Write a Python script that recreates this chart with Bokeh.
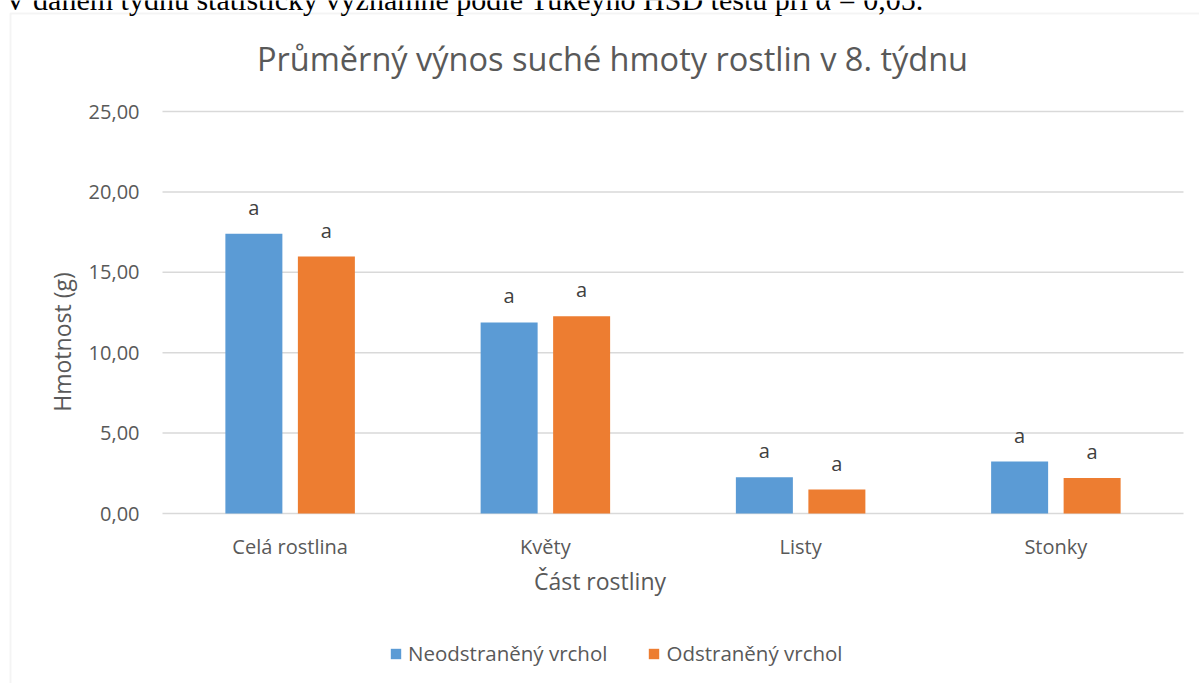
from bokeh.plotting import figure
from bokeh.models import (ColumnDataSource, Range1d, FixedTicker, LabelSet,
                          Legend, LegendItem, Label, BoxAnnotation)
from bokeh.transform import dodge
from bokeh.embed import file_html
from bokeh.resources import INLINE
from bokeh.core.properties import value

# ---- data ----
categories = ["Celá rostlina", "Květy", "Listy", "Stonky"]
neodstraneny = [17.39, 11.88, 2.26, 3.23]
odstraneny = [15.98, 12.27, 1.49, 2.20]
letters_neo = ["a", "a", "a", "a"]
letters_odst = ["a", "a", "a", "a"]
series_names = ["Neodstraněný vrchol", "Odstraněný vrchol"]
y_ticks = [0, 5, 10, 15, 20, 25]
y_tick_labels = ["0,00", "5,00", "10,00", "15,00", "20,00", "25,00"]
title_text = "Průměrný výnos suché hmoty rostlin v 8. týdnu"
x_title = "Část rostliny"
y_title = "Hmotnost (g)"
doc_text = "V daném týdnu statisticky významné podle Tukeyho HSD testu při α = 0,05."

FONT = "Open Sans"
GREY = "#595959"
BLUE = "#5B9BD5"
ORANGE = "#ED7D31"
GRID = "#d9d9d9"

W, H = 1199, 683
# layout of the plotting area in pixels
PL, PR, PT, PB = 162, 1183, 111, 513
n = len(categories)
xs = (PR - PL) / n
ys = (PB - PT) / y_ticks[-1]

xpos = [i + 0.5 for i in range(n)]
src = ColumnDataSource(dict(x=xpos, neo=neodstraneny, odst=odstraneny,
                            lneo=letters_neo, lodst=letters_odst))
grid_src = ColumnDataSource(dict(y=y_ticks, x0=[0] * len(y_ticks), x1=[n] * len(y_ticks)))

p = figure(width=W, height=H,
           x_range=Range1d(-PL / xs, n + (W - PR) / xs),
           y_range=Range1d(-(H - PB) / ys, y_ticks[-1] + PT / ys),
           output_backend="svg", toolbar_location=None,
           min_border=0, min_border_left=0, min_border_right=0,
           min_border_top=0, min_border_bottom=0)
p.outline_line_color = None
p.background_fill_color = "white"
p.border_fill_color = "white"
p.xgrid.visible = False
p.ygrid.visible = False

# gridlines across the category area
p.segment(x0="x0", x1="x1", y0="y", y1="y", source=grid_src, line_color=GRID, line_width=1.5)

BW = 57 / xs
OFF = 36.25 / xs
r1 = p.vbar(x=dodge("x", -OFF), top="neo", width=BW, source=src, fill_color=BLUE, line_color=None)
r2 = p.vbar(x=dodge("x", OFF), top="odst", width=BW, source=src, fill_color=ORANGE, line_color=None)

for col, lab, off in (("neo", "lneo", -OFF), ("odst", "lodst", OFF)):
    p.add_layout(LabelSet(x=dodge("x", off), y=col, text=lab, source=src,
                          y_offset=19, text_align="center", text_baseline="alphabetic",
                          text_font=value(FONT), text_font_size="20px", text_color="#404040"))

# axes (placed at the data origin inside the canvas)
p.xaxis.fixed_location = 0
p.yaxis.fixed_location = 0
p.yaxis.ticker = FixedTicker(ticks=y_ticks)
p.yaxis.major_label_overrides = {t: l for t, l in zip(y_ticks, y_tick_labels)}
p.xaxis.ticker = FixedTicker(ticks=xpos)
p.xaxis.major_label_overrides = {x: c for x, c in zip(xpos, categories)}
for ax in (p.xaxis, p.yaxis):
    ax.axis_line_color = None
    ax.major_tick_line_color = None
    ax.minor_tick_line_color = None
    ax.major_label_text_font = FONT
    ax.major_label_text_color = GREY
    ax.major_label_text_font_size = "20px"
    ax.axis_label_text_font = FONT
    ax.axis_label_text_font_style = "normal"
    ax.axis_label_text_color = GREY
    ax.axis_label_text_font_size = "23px"
p.yaxis.major_label_standoff = 17
p.xaxis.major_label_standoff = 13
p.yaxis.axis_label = y_title
p.xaxis.axis_label = x_title
p.yaxis.axis_label_standoff = 8
p.xaxis.axis_label_standoff = 2

# legend
legend = Legend(items=[LegendItem(label=series_names[0], renderers=[r1]),
                       LegendItem(label=series_names[1], renderers=[r2])],
                orientation="horizontal", location=(389, 16),
                glyph_width=13, glyph_height=13, label_standoff=6, spacing=40,
                padding=0, margin=0, border_line_color=None, background_fill_alpha=0,
                label_text_font=FONT, label_text_font_size="20.5px", label_text_color=GREY,
                label_height=20)
p.add_layout(legend, "center")

# title
p.add_layout(Label(x=612, y=H - 58, x_units="screen", y_units="screen", text=title_text,
                   text_align="center", text_baseline="middle", text_font=FONT,
                   text_font_size="32.5px", text_color=GREY))

# surrounding document text (cut off at the top)
p.add_layout(Label(x=4, y=H + 1, x_units="screen", y_units="screen", text=doc_text,
                   text_align="left", text_baseline="alphabetic",
                   text_font="Liberation Serif", text_font_size="30px", text_color="black"))

# chart area border
p.add_layout(BoxAnnotation(left=10, right=W + 200, top=H - 13, bottom=-200,
                           left_units="screen", right_units="screen",
                           top_units="screen", bottom_units="screen",
                           fill_alpha=0, line_color=GRID, line_width=2, level="underlay"))

open("out.html", "w").write(file_html(p, INLINE))
